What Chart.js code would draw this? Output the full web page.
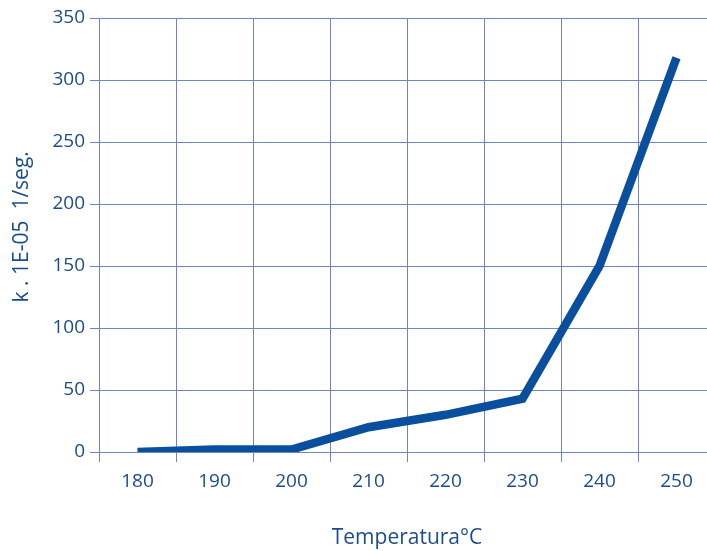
<!DOCTYPE html>
<html>
<head>
<meta charset="utf-8">
<script src="https://cdn.jsdelivr.net/npm/chart.js@4"></script>
<style>
  html, body { margin: 0; padding: 0; background: #fff; overflow: hidden; }
  #wrap { position: relative; width: 720px; height: 551px; }
</style>
</head>
<body>
<div id="wrap"><canvas id="chart"></canvas></div>
<script>
const temps = ["180", "190", "200", "210", "220", "230", "240", "250"];
const kValues = [0, 2, 2, 20, 30, 43, 150, 318];
const yTicks = [0, 50, 100, 150, 200, 250, 300, 350];

const lineColor = "#0a4f9d";
const gridColor = "#7083c2";
const textColor = "#1b4c8c";

const ctx = document.getElementById("chart");
new Chart(ctx, {
  type: "line",
  data: {
    labels: temps,
    datasets: [{
      data: kValues,
      borderColor: lineColor,
      borderWidth: 8.5,
      borderCapStyle: "butt",
      borderJoinStyle: "miter",
      pointRadius: 0,
      tension: 0,
      fill: false
    }]
  },
  options: {
    responsive: true,
    maintainAspectRatio: false,
    animation: false,
    layout: { padding: { top: 18, right: 5, left: 0, bottom: 0 } },
    plugins: { legend: { display: false }, tooltip: { enabled: false } },
    scales: {
      x: {
        offset: true,
        grid: { offset: true, color: gridColor, lineWidth: 1, tickLength: 10, drawTicks: true },
        border: { display: true, color: gridColor, width: 1 },
        ticks: { color: textColor, font: { family: "Open Sans", size: 19 }, padding: 8, maxRotation: 0 },
        title: {
          display: true,
          text: "Temperatura°C",
          color: textColor,
          font: { family: "Open Sans", size: 21 },
          padding: { top: 24, bottom: 0 }
        },
        afterFit(scale) { scale.height = 99; }
      },
      y: {
        min: 0,
        max: 350,
        afterBuildTicks(scale) { scale.ticks = yTicks.map(v => ({ value: v })); },
        grid: { color: gridColor, lineWidth: 1, tickLength: 9 },
        border: { display: true, color: gridColor, width: 1 },
        ticks: { color: textColor, font: { family: "Open Sans", size: 19 }, padding: 5 },
        title: {
          display: true,
          text: "   k . 1E-05  1/seg.",
          color: textColor,
          font: { family: "Open Sans", size: 21 },
          padding: { top: 9, bottom: 0 }
        },
        afterFit(scale) { scale.width = 99; }
      }
    }
  }
});
</script>
</body>
</html>
